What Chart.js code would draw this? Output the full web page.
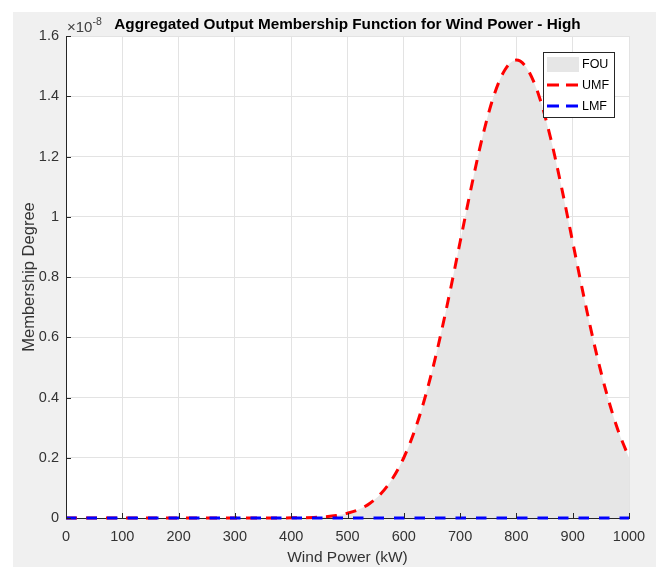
<!DOCTYPE html>
<html>
<head>
<meta charset="utf-8">
<script src="https://cdn.jsdelivr.net/npm/chart.js@4"></script>
<style>
  html, body { margin: 0; padding: 0; background: #ffffff; }
  #wrap { width: 656px; height: 567px; }
</style>
</head>
<body>
<div id="wrap"><canvas id="chart1" width="656" height="567"></canvas></div>
<script>
// wind power (kW)
const windPower = [
  0, 20, 40, 60, 80, 100, 120, 140, 160, 180,
  200, 220, 240, 260, 280, 300, 320, 340, 360, 380,
  400, 420, 440, 460, 480, 500, 520, 540, 560, 580,
  600, 620, 640, 660, 680, 700, 720, 740, 760, 780,
  800, 820, 840, 860, 880, 900, 920, 940, 960, 980, 1000
];

// upper membership function, in units of 1e-8
const umf = [
  0, 0, 0, 0, 0, 0, 0, 0, 0, 0,
  0, 0, 0, 0, 0, 0, 0, 0, 0, 0.0002,
  0.0005, 0.001, 0.002, 0.004, 0.008, 0.016, 0.028, 0.049, 0.082, 0.131,
  0.200, 0.294, 0.415, 0.563, 0.733, 0.916, 1.099, 1.267, 1.402, 1.489,
  1.520, 1.489, 1.402, 1.267, 1.099, 0.916, 0.733, 0.563, 0.415, 0.294, 0.200
];

// lower membership function, in units of 1e-8
const lmf = [
  0, 0, 0, 0, 0, 0, 0, 0, 0, 0,
  0, 0, 0, 0, 0, 0, 0, 0, 0, 0,
  0, 0, 0, 0, 0, 0, 0, 0, 0, 0,
  0, 0, 0, 0, 0, 0, 0, 0, 0, 0,
  0, 0, 0, 0, 0, 0, 0, 0, 0, 0, 0
];

const xTicks = [0, 100, 200, 300, 400, 500, 600, 700, 800, 900, 1000];
const yTicks = [0, 0.2, 0.4, 0.6, 0.8, 1, 1.2, 1.4, 1.6];

const legendItems = ['FOU', 'UMF', 'LMF'];

function pts(ys) {
  return windPower.map((x, i) => ({ x: x, y: ys[i] }));
}

const FONT = "'Liberation Sans', Arial, sans-serif";
const AXIS_COLOR = '#262626';

// figure background, white axes box
const backgroundPlugin = {
  id: 'figureBg',
  beforeDraw(chart) {
    const { ctx, chartArea: a } = chart;
    ctx.save();
    ctx.fillStyle = '#ffffff';
    ctx.fillRect(0, 0, chart.width, chart.height);
    ctx.fillStyle = '#f0f0f0';
    ctx.fillRect(13, 12, chart.width - 13, chart.height - 12);
    ctx.fillStyle = '#ffffff';
    ctx.fillRect(a.left, a.top, a.right - a.left, a.bottom - a.top);
    ctx.restore();
  }
};

// title, exponent, inner ticks, legend
const decorPlugin = {
  id: 'decor',
  afterDraw(chart) {
    const { ctx, chartArea: a } = chart;
    const xs = chart.scales.x, ys = chart.scales.y;
    ctx.save();

    // inward tick marks
    ctx.strokeStyle = AXIS_COLOR;
    ctx.lineWidth = 1;
    ctx.beginPath();
    yTicks.forEach(v => {
      const py = Math.round(ys.getPixelForValue(v)) + 0.5;
      ctx.moveTo(a.left, py);
      ctx.lineTo(a.left + 5, py);
    });
    xTicks.forEach(v => {
      const px = Math.round(xs.getPixelForValue(v)) + 0.5;
      ctx.moveTo(px, a.bottom);
      ctx.lineTo(px, a.bottom - 5);
    });
    ctx.stroke();

    // title
    ctx.fillStyle = '#000000';
    ctx.font = 'bold 15.3px ' + FONT;
    ctx.textAlign = 'center';
    ctx.textBaseline = 'alphabetic';
    ctx.fillText('Aggregated Output Membership Function for Wind Power - High', (a.left + a.right) / 2, 29);

    // exponent label
    ctx.fillStyle = '#404040';
    ctx.textAlign = 'left';
    ctx.font = '15px ' + FONT;
    ctx.fillText('\u00d710', a.left + 1, 31.5);
    const w = ctx.measureText('\u00d710').width;
    ctx.font = '10.5px ' + FONT;
    ctx.fillText('-8', a.left + 1 + w, 25);

    // legend box
    const bx = 543.5, by = 52.5, bw = 71, bh = 65;
    ctx.fillStyle = '#ffffff';
    ctx.fillRect(bx, by, bw, bh);
    ctx.strokeStyle = AXIS_COLOR;
    ctx.lineWidth = 1;
    ctx.strokeRect(bx, by, bw, bh);
    const rows = [64, 85, 106];
    const sets = chart.data.datasets;
    ctx.font = '12.5px ' + FONT;
    ctx.textBaseline = 'middle';
    legendItems.forEach((label, i) => {
      const y = rows[i];
      const ds = sets[i];
      if (i === 0) {
        ctx.fillStyle = ds.backgroundColor;
        ctx.fillRect(547, y - 7, 32, 15);
      } else {
        ctx.strokeStyle = ds.borderColor;
        ctx.lineWidth = 3;
        ctx.setLineDash([12, 7]);
        ctx.beginPath();
        ctx.moveTo(547, y);
        ctx.lineTo(580, y);
        ctx.stroke();
        ctx.setLineDash([]);
      }
      ctx.fillStyle = '#000000';
      ctx.fillText(label, 582, y + 0.5);
    });

    ctx.restore();
  }
};

const ctx1 = document.getElementById('chart1').getContext('2d');
const chart1 = new Chart(ctx1, {
  type: 'line',
  data: {
    datasets: [
      {
        label: 'FOU',
        data: pts(umf),
        fill: 2,
        backgroundColor: '#e6e6e6',
        borderWidth: 0,
        borderColor: 'rgba(0,0,0,0)',
        pointRadius: 0,
        cubicInterpolationMode: 'monotone',
        order: 3
      },
      {
        label: 'UMF',
        data: pts(umf),
        fill: false,
        borderColor: '#ff0000',
        borderWidth: 3,
        borderDash: [11, 9],
        pointRadius: 0,
        cubicInterpolationMode: 'monotone',
        clip: 4,
        order: 2
      },
      {
        label: 'LMF',
        data: pts(lmf),
        fill: false,
        borderColor: '#0000ff',
        borderWidth: 3,
        borderDash: [10.5, 10],
        pointRadius: 0,
        clip: 4,
        order: 1
      }
    ]
  },
  options: {
    responsive: false,
    animation: false,
    events: [],
    layout: { padding: { top: 36, right: 27, left: 0, bottom: 0 } },
    plugins: {
      legend: { display: false },
      tooltip: { enabled: false },
      title: { display: false }
    },
    scales: {
      x: {
        type: 'linear',
        min: 0,
        max: 1000,
        afterFit(scale) { scale.height = 49; },
        afterBuildTicks(scale) { scale.ticks = xTicks.map(v => ({ value: v })); },
        grid: { color: '#e3e3e3', drawTicks: false },
        border: { display: true, color: AXIS_COLOR, width: 1 },
        ticks: {
          padding: 10,
          color: '#333333',
          font: { family: FONT, size: 14.5 },
          maxRotation: 0,
          autoSkip: false,
          callback: v => String(v)
        },
        title: {
          display: true,
          text: 'Wind Power (kW)',
          color: '#333333',
          font: { family: FONT, size: 15.5 },
          padding: { top: 0, bottom: 0 }
        }
      },
      y: {
        type: 'linear',
        min: 0,
        max: 1.6,
        afterFit(scale) { scale.width = 66; },
        afterBuildTicks(scale) { scale.ticks = yTicks.map(v => ({ value: v })); },
        grid: { color: '#e3e3e3', drawTicks: false },
        border: { display: true, color: AXIS_COLOR, width: 1 },
        ticks: {
          padding: 7,
          color: '#333333',
          font: { family: FONT, size: 14.5 },
          autoSkip: false,
          callback: v => String(Number(v.toFixed(1)))
        },
        title: {
          display: true,
          text: 'Membership Degree',
          color: '#333333',
          font: { family: FONT, size: 16.5 },
          padding: { top: 20, bottom: 0 }
        }
      }
    }
  },
  plugins: [backgroundPlugin, decorPlugin]
});
</script>
</body>
</html>
